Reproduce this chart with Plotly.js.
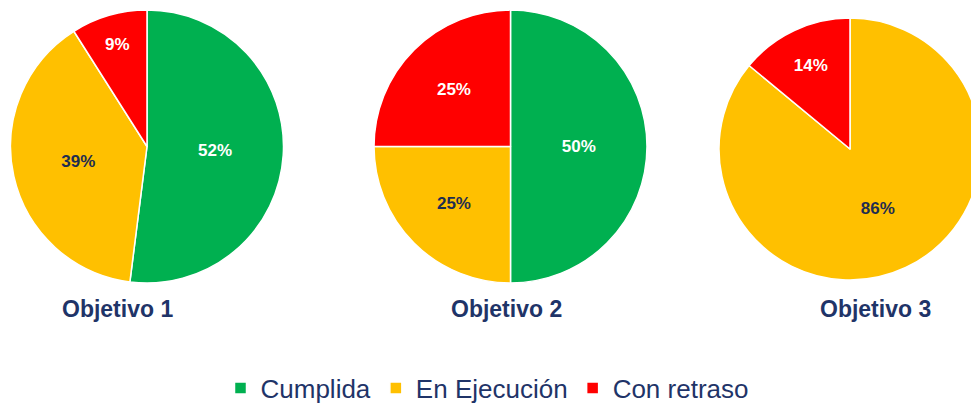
<!DOCTYPE html>
<html>
<head>
<meta charset="utf-8">
<script src="https://cdn.plot.ly/plotly-3.0.1.min.js"></script>
<style>
html, body { margin: 0; padding: 0; overflow: hidden; background: #ffffff; }
#chart { width: 1000px; height: 404px; }
</style>
</head>
<body>
<div id="chart"></div>
<script>
const categories = ['Cumplida', 'En Ejecución', 'Con retraso'];
const colors = ['#00B050', '#FFC000', '#FF0000'];
const textColors = ['#FFFFFF', '#1F2D50', '#FFFFFF'];
const titles = ['Objetivo 1', 'Objetivo 2', 'Objetivo 3'];
const obj1 = [52, 39, 9];
const obj2 = [50, 25, 25];
const obj3 = [0, 86, 14];

const navy = '#1F3468';
const font = 'Liberation Sans, Arial, sans-serif';

const domains = [
  {x: [0.0105, 0.2835], y: [0.2995, 0.9752]},
  {x: [0.374, 0.647], y: [0.2995, 0.9752]},
  {x: [0.719, 0.981], y: [0.3069, 0.9554]}
];

function makePie(vals, i) {
  const labs = [], v = [], c = [], tc = [];
  vals.forEach((val, k) => {
    if (val > 0) { labs.push(categories[k]); v.push(val); c.push(colors[k]); tc.push(textColors[k]); }
  });
  return {
    type: 'pie',
    labels: labs,
    values: v,
    sort: false,
    direction: 'clockwise',
    rotation: 0,
    domain: domains[i],
    marker: {colors: c, line: {color: '#FFFFFF', width: 1.5}},
    textinfo: 'percent',
    textposition: 'inside',
    insidetextorientation: 'horizontal',
    textfont: {family: font, size: 17, color: tc, weight: 'bold'},
    hoverinfo: 'label+percent',
    showlegend: true
  };
}

const data = [makePie(obj1, 0), makePie(obj2, 1), makePie(obj3, 2)];

const titleX = [0.1175, 0.506, 0.875];
const annotations = titles.map((t, i) => ({
  text: '<b>' + t + '</b>',
  x: titleX[i], y: 1 - 309 / 404,
  xref: 'paper', yref: 'paper',
  xanchor: 'center', yanchor: 'middle',
  showarrow: false,
  font: {family: font, size: 23, color: navy}
}));

const layout = {
  width: 1000,
  height: 404,
  margin: {l: 0, r: 0, t: 0, b: 0, autoexpand: false},
  paper_bgcolor: '#FFFFFF',
  plot_bgcolor: '#FFFFFF',
  annotations: annotations,
  legend: {
    orientation: 'h',
    x: 0.487, xanchor: 'center',
    y: 1 - 388 / 404, yanchor: 'middle',
    font: {family: font, size: 26, color: navy},
    traceorder: 'normal',
    itemclick: false
  }
};

Plotly.newPlot('chart', data, layout, {displayModeBar: false, staticPlot: true});
</script>
</body>
</html>
